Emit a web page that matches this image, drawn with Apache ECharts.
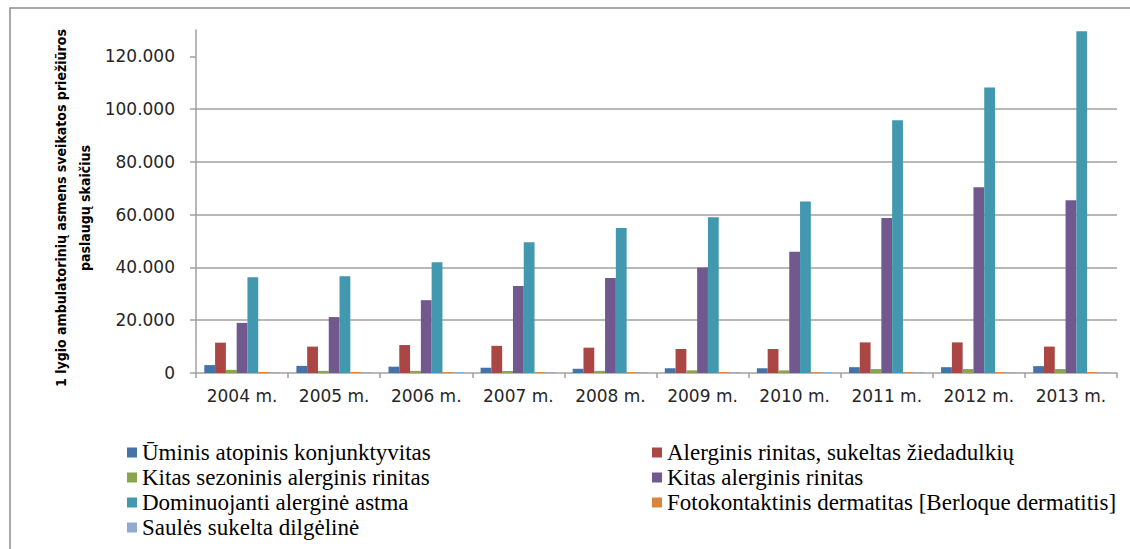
<!DOCTYPE html>
<html>
<head>
<meta charset="utf-8">
<script src="https://cdn.jsdelivr.net/npm/echarts@6/dist/echarts.min.js"></script>
<style>
  html, body { margin: 0; padding: 0; background: #fff; }
  #chart { width: 1130px; height: 549px; }
</style>
</head>
<body>
<div id="chart"></div>
<script>
// metai (kategorijos)
const years = ["2004 m.", "2005 m.", "2006 m.", "2007 m.", "2008 m.", "2009 m.", "2010 m.", "2011 m.", "2012 m.", "2013 m."];

// serijų pavadinimai
const seriesNames = [
  "Ūminis atopinis konjunktyvitas",
  "Alerginis rinitas, sukeltas žiedadulkių",
  "Kitas sezoninis alerginis rinitas",
  "Kitas alerginis rinitas",
  "Dominuojanti alerginė astma",
  "Fotokontaktinis dermatitas [Berloque dermatitis]",
  "Saulės sukelta dilgėlinė",
];

// reikšmės (nuskaitytos nuo paveikslo)
const uminis = [3000, 2700, 2400, 2000, 1600, 1800, 1800, 2200, 2200, 2600];
const rinitasZiedad = [11500, 10000, 10600, 10300, 9600, 9100, 9100, 11600, 11600, 10000];
const kitasSezon = [1200, 800, 800, 800, 800, 1000, 1000, 1500, 1500, 1500];
const kitasRinitas = [19000, 21200, 27600, 33000, 36000, 40000, 46000, 58700, 70400, 65500];
const astma = [36300, 36700, 42000, 49600, 55000, 59000, 65000, 95800, 108200, 129500];
const fotokont = [400, 350, 350, 300, 300, 300, 300, 300, 300, 300];
const saules = [300, 300, 300, 300, 300, 300, 300, 300, 300, 300];

// y ašies žymės
const yTicks = [0, 20000, 40000, 60000, 80000, 100000, 120000];

const colors = ["#4572A7", "#AA4643", "#89A54E", "#71588F", "#4198AF", "#DB843D", "#93A9CF"];
const values = [uminis, rinitasZiedad, kitasSezon, kitasRinitas, astma, fotokont, saules];

const chart = echarts.init(document.getElementById("chart"), null, { renderer: "svg" });

const legendText = {
  fontFamily: "Liberation Serif",
  fontSize: 23,
  color: "#000",
  lineHeight: 25,
};

const option = {
  animation: false,
  color: colors,
  grid: { left: 196, right: 13, top: 30, bottom: 176 },
  legend: [
    {
      orient: "vertical",
      left: 127,
      top: 440,
      height: 110,
      padding: 0,
      itemWidth: 10,
      itemHeight: 10,
      itemGap: 0,
      icon: "rect",
      textStyle: legendText,
      data: [seriesNames[0], seriesNames[2], seriesNames[4], seriesNames[6]],
    },
    {
      orient: "vertical",
      left: 652,
      top: 440,
      height: 110,
      padding: 0,
      itemWidth: 10,
      itemHeight: 10,
      itemGap: 0,
      icon: "rect",
      textStyle: legendText,
      data: [seriesNames[1], seriesNames[3], seriesNames[5]],
    },
  ],
  xAxis: {
    type: "category",
    data: years,
    axisLine: { lineStyle: { color: "#a0a0a0", width: 1.5 } },
    axisTick: { show: true, length: 5, interval: 0, lineStyle: { color: "#a0a0a0", width: 1.5 } },
    axisLabel: {
      interval: 0,
      margin: 14,
      fontFamily: "DejaVu Sans",
      fontSize: 17,
      color: "#262626",
    },
  },
  yAxis: {
    type: "value",
    min: 0,
    max: 130000,
    interval: 20000,
    axisLine: { show: true, lineStyle: { color: "#a0a0a0", width: 1.5 } },
    axisTick: { show: true, length: 6, customValues: yTicks, lineStyle: { color: "#a0a0a0", width: 1.5 } },
    splitLine: { show: true, showMinLine: false, showMaxLine: false, lineStyle: { color: "#a0a0a0", width: 1.5 } },
    axisLabel: {
      customValues: yTicks,
      margin: 21,
      fontFamily: "DejaVu Sans",
      fontSize: 17,
      color: "#262626",
      formatter: (v) => (v === 0 ? "0" : String(v).replace(/\B(?=(\d{3})+(?!\d))/g, ".")),
    },
  },
  graphic: [
    {
      type: "rect",
      silent: true,
      shape: { x: 10, y: 8, width: 1200, height: 600 },
      style: { fill: "none", stroke: "#8c8c8c", lineWidth: 1.5 },
    },
    {
      type: "text",
      x: 73,
      y: 208,
      rotation: Math.PI / 2,
      style: {
        text: "1 lygio ambulatorinių asmens sveikatos priežiūros\npaslaugų skaičius",
        font: "bold 14px 'DejaVu Sans Condensed', 'Liberation Sans', sans-serif",
        textAlign: "center",
        textVerticalAlign: "middle",
        lineHeight: 24,
        fill: "#000",
      },
    },
  ],
  series: seriesNames.map((name, i) => ({
    name: name,
    type: "bar",
    data: values[i],
    barGap: "0%",
    barCategoryGap: "18%",
    itemStyle: { color: colors[i] },
  })),
};

chart.setOption(option);
</script>
</body>
</html>
